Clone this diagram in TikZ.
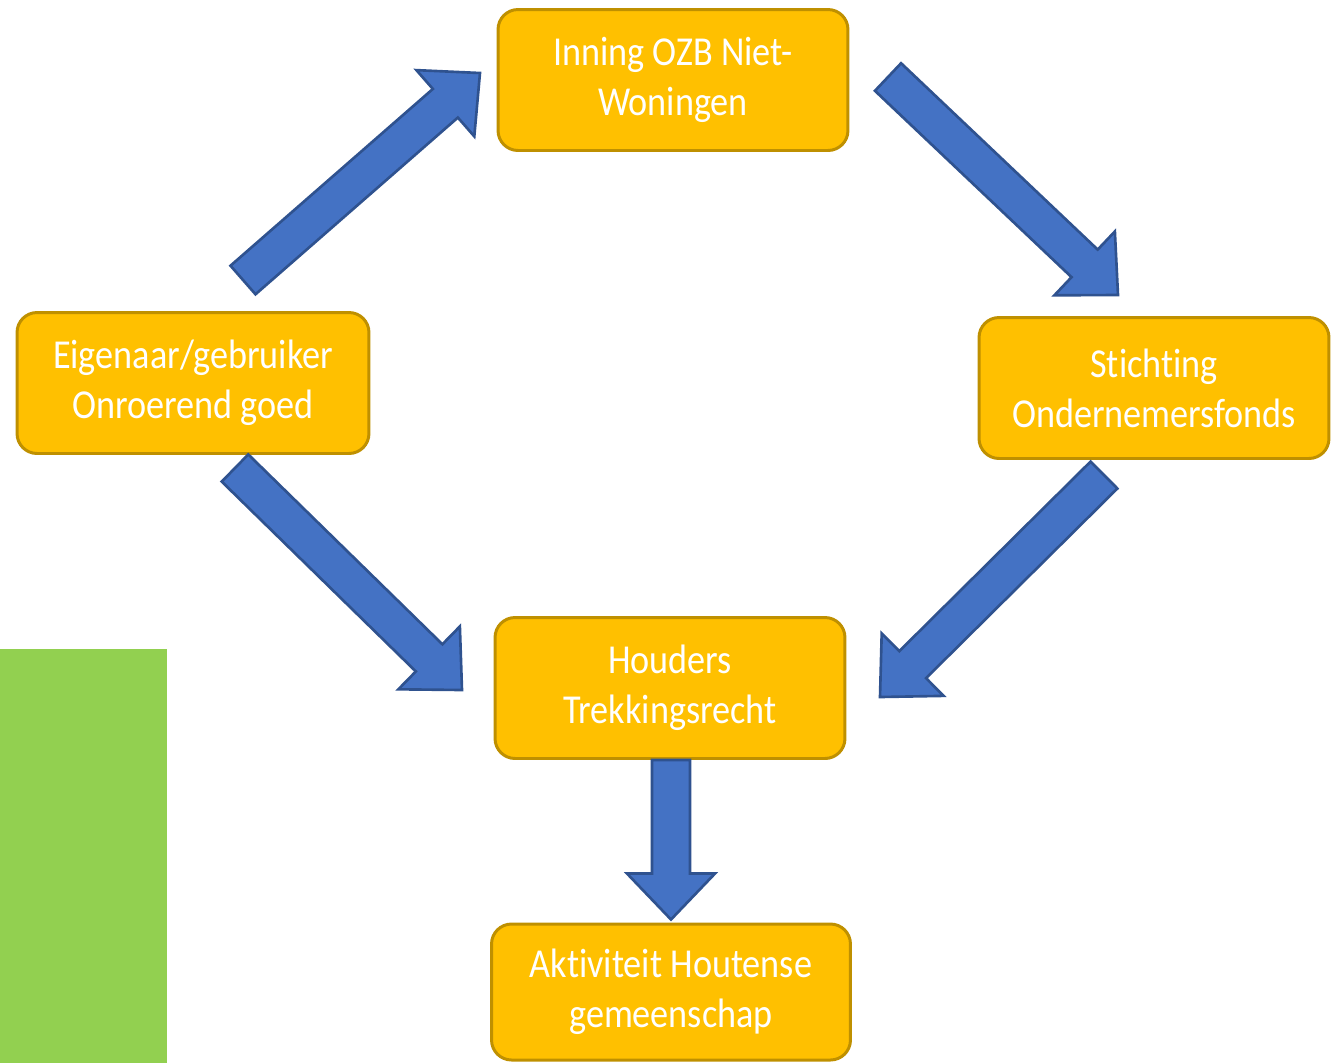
\documentclass[tikz,border=0pt]{standalone}
\usepackage{fontspec}
\setmainfont{Carlito}[FakeStretch=0.88, Ligatures=NoCommon]
\usetikzlibrary{calc}

\definecolor{boxfill}{HTML}{FFC000}
\definecolor{boxline}{HTML}{BF9000}
\definecolor{arrowfill}{HTML}{4472C4}
\definecolor{arrowline}{HTML}{2F528F}
\definecolor{sidegreen}{HTML}{92D050}

\tikzset{
  stepbox/.style={draw=boxline, fill=boxfill, line width=1.7pt, rounded corners=0.4cm,
    text=white, align=center, inner sep=0pt, minimum width=7cm, minimum height=2.82cm,
    font=\fontsize{23.4}{28.4}\selectfont},
  blockarrow/.style={draw=arrowline, fill=arrowfill, line width=1.5pt, line join=miter}
}

% block arrow from #1 to #2
\newcommand{\blockarrow}[2]{%
  \coordinate (#1-#2) at ($(#2)!0.92cm!(#1)$);
  \filldraw[blockarrow] ($(#1)!0.38cm!90:(#2)$) -- ($(#1-#2)!0.38cm!90:(#2)$)
    -- ($(#1-#2)!0.88cm!90:(#2)$) -- (#2) -- ($(#1-#2)!0.88cm!-90:(#2)$)
    -- ($(#1-#2)!0.38cm!-90:(#2)$) -- ($(#1)!0.38cm!-90:(#2)$) -- cycle;}

\begin{document}
\begin{tikzpicture}[x=0.02cm, y=-0.02cm]
  \useasboundingbox (0,0) rectangle (1332,1063);

  % green strip at the left
  \fill[sidegreen] (0,649) rectangle (167,1063);

  % the boxes
  \node[stepbox] (ozb) at (673,80) {Inning OZB Niet-\\Woningen};
  \node[stepbox, minimum width=7.04cm] (eigenaar) at (193,383) {Eigenaar/gebruiker\\Onroerend goed};
  \node[stepbox] (stichting) at (1154,388) {Stichting\\Ondernemersfonds};
  \node[stepbox] (houders) at (670,688) {Houders\\Trekkingsrecht};
  \node[stepbox, minimum width=7.18cm, minimum height=2.72cm] (aktiviteit) at (671,992) {Aktiviteit Houtense\\gemeenschap};

  % arrow ends
  \coordinate (eig-out) at (243,280);
  \coordinate (ozb-in) at (480,73);
  \coordinate (ozb-out) at (888,77);
  \coordinate (sti-in) at (1118,295);
  \coordinate (eig-down) at (235,468);
  \coordinate (hou-in-l) at (462,690);
  \coordinate (sti-out) at (1104,475);
  \coordinate (hou-in-r) at (880,697);
  \coordinate (hou-out) at ($(houders.south)+(1,0)$);
  \coordinate (akt-in) at ($(aktiviteit.north)+(0,-3)$);

  % the arrows
  \blockarrow{eig-out}{ozb-in}
  \blockarrow{ozb-out}{sti-in}
  \blockarrow{eig-down}{hou-in-l}
  \blockarrow{sti-out}{hou-in-r}
  \blockarrow{hou-out}{akt-in}
\end{tikzpicture}
\end{document}
